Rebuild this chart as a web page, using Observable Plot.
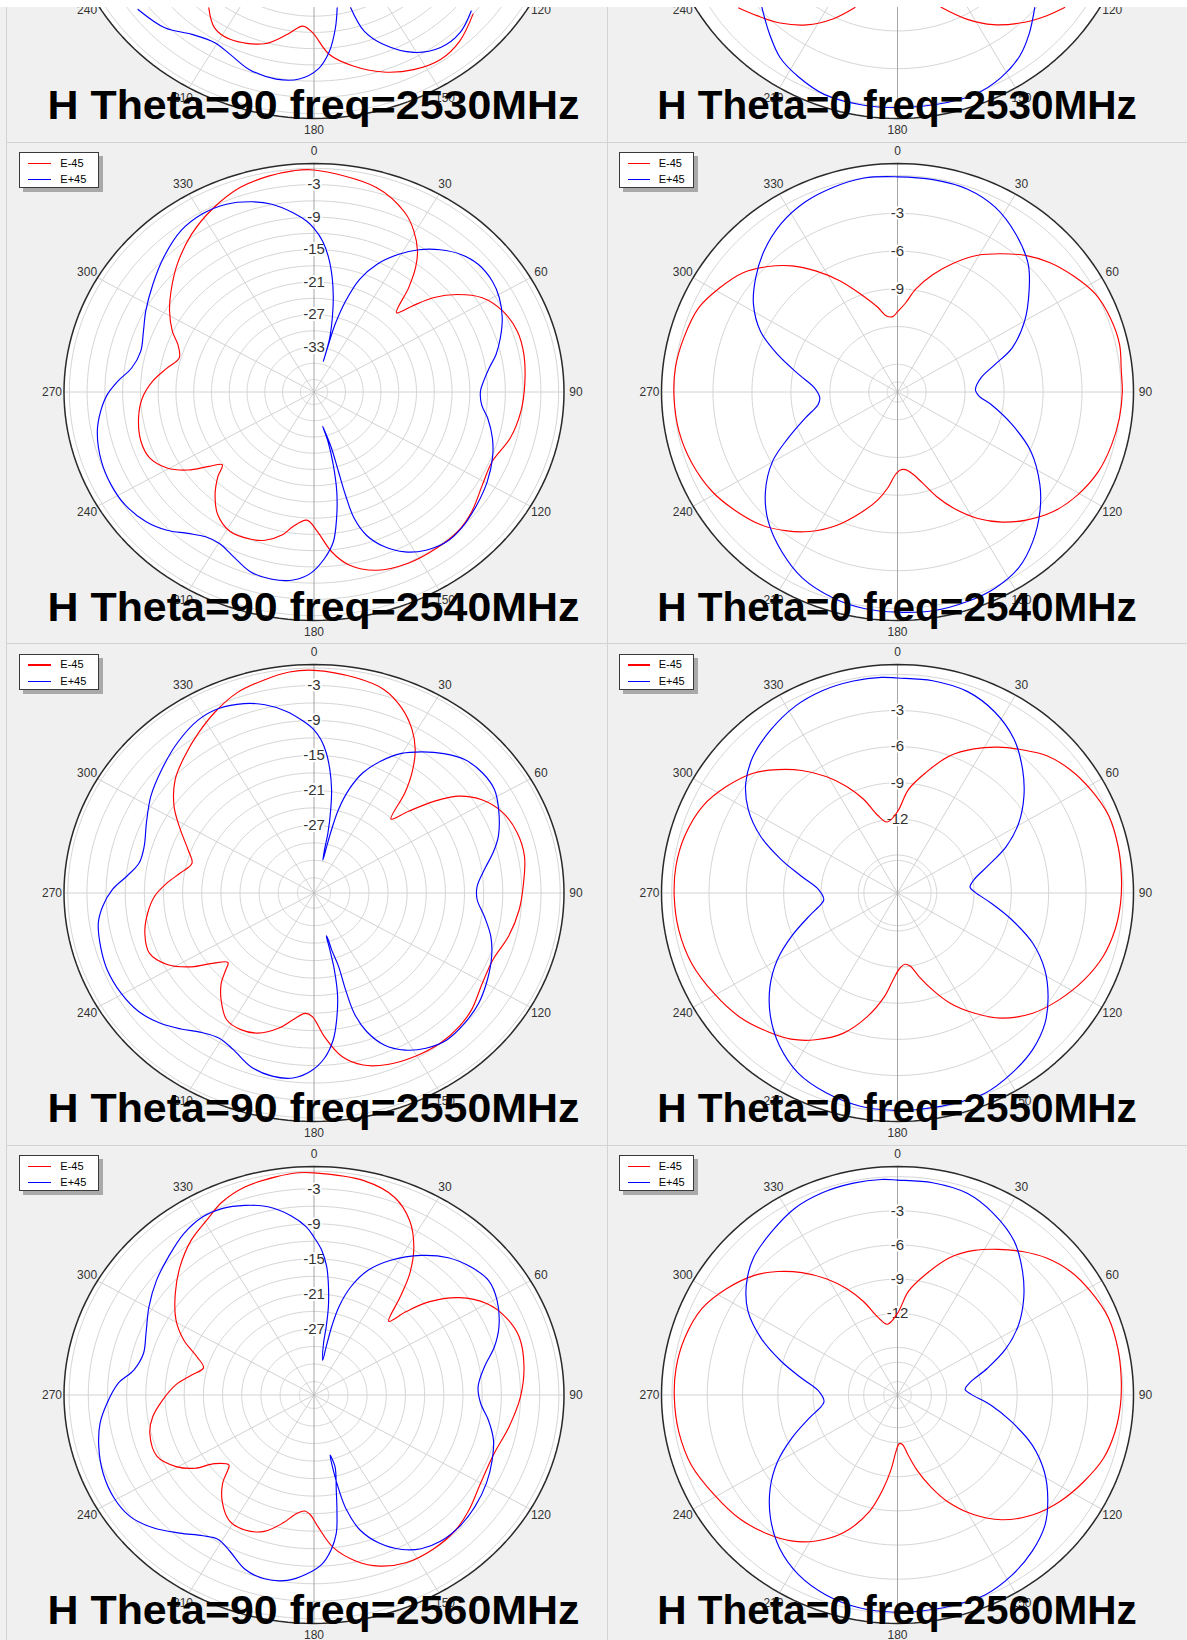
<!DOCTYPE html>
<html><head><meta charset="utf-8">
<script src="https://cdn.jsdelivr.net/npm/d3@7"></script>
<script src="https://cdn.jsdelivr.net/npm/@observablehq/plot@0.6"></script>
<style>
body{margin:0;background:#f0f0f0;font-family:"Liberation Sans",Arial,sans-serif;}
#page{position:relative;width:1187px;height:1640px;overflow:hidden;background:#f0f0f0;}
.panel{position:absolute;height:502px;}
.panel svg{position:absolute;left:0;top:0;}
.hline{position:absolute;left:6px;right:0;height:1px;background:#d2d2d2;}
.vline{position:absolute;top:0;height:1640px;width:1px;background:#d2d2d2;}
.legend{position:absolute;height:34px;background:#fff;border:1.3px solid #3a3a3a;box-shadow:4px 4px 0 #a9a9a9;font-size:11px;color:#000;}
.lrow{position:absolute;left:0;height:12px;line-height:12px;white-space:nowrap;}
.sw{position:absolute;height:1.3px;top:6px;}
.lt{position:absolute;top:0;}
#topstrip{position:absolute;left:0;top:0;width:1187px;height:7px;background:#fff;z-index:20;}
</style></head>
<body><div id="page"><div id="topstrip"></div></div>
<script>
// ---------- data: [angle (deg), level (dB)] ----------
const freqs = [2530, 2540, 2550, 2560];
const angleTicks = [0,30,60,90,120,150,180,210,240,270,300,330];
const seriesNames = ["E-45", "E+45"];
const seriesColors = ["#ff0000", "#0000ff"];

// radial scale of each chart (centre value, outer value)
const rminH90 = [-41.3, -41.3, -38.6, -38.3];
const rmaxH90 = [0.9, 0.9, 0.6, 0.8];
const rminH0 = [-17.2, -17.2, -18.15, -19.17];
const rmaxH0 = [0.96, 0.96, 0.82, 0.89];
const extraRingH0 = [-16.4, -16.4, -15.45, -16.3];
const labelsH90 = [[-3,-9,-15,-21,-27,-33], [-3,-9,-15,-21,-27,-33], [-3,-9,-15,-21,-27], [-3,-9,-15,-21,-27]];
const labelsH0 = [[-3,-6,-9], [-3,-6,-9], [-3,-6,-9,-12], [-3,-6,-9,-12]];

// 2530 MHz (only lower part visible)
const h90_2530_Em45 = [[130.5,-6.0],[138.6,-4.1],[145.7,-3.4],[153.1,-4.1],[160.8,-5.7],[168.7,-8.2],[175.1,-10.8],[180.6,-15.0],[184.3,-16.1],[189.5,-14.3],[196.4,-11.7],[207.2,-10.3],[213.4,-10.8],[219.2,-13.2]];
const h90_2530_Ep45a = [[130.1,-6.6],[137.0,-5.2],[143.7,-5.2],[150.7,-6.9],[157.7,-10.5],[162.0,-13.9],[164.1,-18.7]];
const h90_2530_Ep45b = [[169.8,-19.2],[171.9,-15.6],[175.0,-11.4],[178.8,-8.2],[184.1,-6.3],[190.4,-5.8],[198.3,-6.4],[205.0,-7.8],[210.7,-8.5],[217.7,-7.6],[224.7,-5.5],[233.4,-4.3]];
const h0_2530_Em45a = [[126.0,-1.3],[131.2,-2.0],[137.4,-2.9],[145.4,-4.2],[152.4,-5.6],[160.2,-7.3]];
const h0_2530_Em45b = [[199.3,-7.3],[205.9,-5.8],[213.1,-4.4],[220.5,-3.3],[227.1,-2.5],[232.5,-1.8]];
const h0_2530_Ep45 = [[131.5,-3.1],[138.6,-1.9],[144.5,-1.0],[151.9,-0.3],[159.9,0.1],[169.8,0.1],[179.3,0.1],[189.0,0.1],[199.0,0.0],[207.0,-0.5],[214.1,-1.1],[220.7,-2.1],[228.2,-3.2]];

// 2540 MHz
const h90_2540_Em45 = [[0,-0.3],[15.7,-2.1],[24.9,-4.8],[29.5,-7.1],[33.8,-9.9],[36.7,-12.6],[39.7,-16.3],[43.6,-21.1],[46.2,-18.4],[49.1,-14.7],[53.4,-11.1],[58.5,-8.0],[64.9,-6.1],[71.9,-5.2],[79.0,-5.2],[87.8,-5.7],[95.9,-6.2],[104.4,-7.1],[113.1,-8.6],[121.1,-8.1],[129.7,-6.7],[136.8,-5.9],[144.4,-5.8],[153.3,-5.9],[162.1,-6.7],[169.5,-8.8],[174.3,-11.7],[178.7,-15.5],[182.9,-17.6],[188.1,-16.2],[191.4,-14.4],[196.8,-12.7],[201.3,-12.1],[208.8,-11.9],[215.6,-13.4],[221.3,-16.0],[226.1,-18.8],[229.0,-20.8],[232.2,-18.9],[235.9,-15.6],[240.5,-12.8],[246.3,-11.0],[252.7,-10.7],[260.8,-11.3],[267.8,-12.3],[274.2,-14.0],[280.1,-16.1],[285.5,-17.7],[290.9,-16.7],[295.1,-14.9],[301.5,-12.7],[307.7,-10.8],[315.6,-8.3],[324.6,-5.6],[333.1,-3.4],[341.8,-1.5],[349.1,-0.7],[355.0,-0.3]];
const h90_2540_Ep45 = [[0,-11.1],[3.0,-13.4],[5.7,-16.4],[8.3,-20.0],[10.6,-23.6],[12.7,-27.2],[14.9,-31.0],[15.4,-33.5],[15.5,-35.4],[15.6,-32.2],[15.9,-28.3],[17.6,-23.7],[20.3,-19.1],[24.3,-15.4],[29.2,-12.2],[34.0,-9.6],[39.0,-7.5],[44.3,-5.8],[49.7,-4.9],[55.8,-4.9],[60.9,-5.5],[66.7,-6.7],[72.4,-8.3],[77.3,-9.8],[81.5,-11.4],[86.0,-12.6],[89.7,-13.2],[94.8,-12.9],[99.3,-11.6],[105.8,-10.0],[112.0,-8.8],[119.5,-7.7],[127.2,-6.8],[135.4,-5.9],[140.9,-5.7],[147.1,-6.5],[152.5,-8.0],[157.5,-10.4],[161.5,-13.4],[163.8,-17.0],[164.4,-21.6],[164.3,-26.0],[164.1,-30.5],[165.3,-33.2],[167.0,-34.8],[165.5,-31.9],[166.4,-27.5],[168.2,-22.5],[170.7,-17.7],[173.3,-13.4],[176.7,-10.5],[181.0,-7.8],[185.8,-6.4],[191.6,-6.0],[197.8,-6.4],[204.1,-8.0],[209.7,-9.1],[214.4,-8.9],[219.2,-7.6],[224.2,-5.7],[229.8,-4.2],[236.8,-3.2],[243.4,-3.0],[250.4,-3.2],[258.7,-4.0],[264.3,-5.1],[269.2,-6.4],[273.4,-8.1],[278.2,-10.2],[284.4,-11.1],[291.3,-10.4],[297.8,-9.2],[306.2,-7.6],[314.3,-5.8],[323.0,-4.0],[330.1,-3.4],[336.9,-3.6],[343.2,-4.6],[348.4,-5.9],[353.9,-8.0],[357.9,-9.8]];
const h0_2540_Em45 = [[0.2,-10.8],[5.0,-10.1],[9.7,-8.9],[16.2,-7.5],[22.8,-6.1],[29.6,-4.7],[36.1,-3.6],[42.5,-2.5],[48.8,-1.6],[55.9,-0.8],[62.9,-0.1],[70.2,0.2],[77.5,0.3],[84.5,0.1],[90,0.1],[96.9,0.0],[104.3,-0.2],[112.2,-0.5],[120.5,-1.1],[128.4,-1.9],[135.8,-3.0],[142.1,-4.1],[148.4,-5.4],[154.9,-7.0],[160.2,-8.4],[165.0,-9.7],[170.0,-10.6],[174.3,-11.0],[178.0,-11.0],[181.6,-10.6],[185.4,-9.6],[190.0,-8.5],[196.4,-7.2],[203.9,-5.6],[211.5,-4.2],[218.1,-3.2],[224.9,-2.3],[232.5,-1.6],[240.9,-0.9],[250.4,-0.4],[259.4,-0.1],[268.4,0.0],[276.4,0.0],[284.6,-0.2],[293.6,-0.5],[301.1,-1.2],[308.6,-2.0],[315.0,-3.1],[321.0,-4.3],[326.8,-5.7],[333.3,-7.3],[339.9,-8.9],[347.3,-10.3],[352.0,-11.1],[356.5,-11.2]];
const h0_2540_Ep45 = [[0,-0.1],[9.2,-0.1],[18.5,-0.2],[27.1,-0.7],[36.0,-1.7],[44.7,-2.9],[51.7,-4.3],[60.0,-5.9],[68.3,-7.7],[73.8,-9.4],[80.2,-10.7],[88.3,-11.2],[93.1,-10.9],[98.0,-9.9],[106.4,-8.0],[114.7,-5.9],[123.9,-4.0],[130.9,-2.7],[138.8,-1.4],[146.3,-0.4],[154.3,0.1],[162.1,0.3],[171.1,0.4],[179.9,0.3],[188.5,0.2],[196.8,-0.1],[206.3,-0.7],[215.1,-1.7],[224.1,-2.9],[232.0,-4.3],[240.1,-6.1],[246.4,-8.0],[253.7,-9.8],[260.6,-11.0],[265.5,-11.2],[272.9,-10.8],[280.3,-9.5],[287.9,-7.5],[294.6,-5.6],[302.2,-4.1],[309.8,-3.0],[317.5,-2.0],[326.2,-1.1],[335.0,-0.5],[343.0,-0.2],[351.4,0.0]];

// 2550 MHz
const h90_2550_Em45 = [[0,-0.4],[10.1,-1.1],[17.4,-2.0],[23.4,-4.0],[28.7,-6.6],[32.8,-9.3],[36.7,-12.9],[39.7,-16.3],[43.6,-21.1],[46.6,-18.2],[50.0,-14.2],[53.6,-10.6],[58.7,-7.8],[65.2,-5.9],[72.1,-5.1],[79.2,-5.0],[87.0,-5.7],[95.1,-6.3],[103.7,-7.2],[112.2,-8.3],[120.4,-8.0],[129.0,-6.8],[135.1,-6.3],[142.5,-6.1],[150.4,-6.4],[158.6,-7.0],[165.4,-8.1],[171.1,-10.2],[176.2,-13.9],[180.7,-17.4],[183.8,-17.9],[188.6,-16.6],[193.3,-14.8],[200.1,-13.0],[206.1,-12.5],[212.2,-12.9],[218.5,-15.2],[223.3,-17.4],[226.4,-19.5],[228.5,-20.6],[232.9,-18.6],[236.6,-15.6],[242.0,-12.5],[248.2,-10.8],[255.5,-11.2],[262.5,-12.3],[268.7,-13.6],[274.3,-15.5],[279.4,-17.4],[285.0,-18.8],[290.6,-17.5],[297.4,-15.0],[304.1,-12.1],[311.8,-9.4],[319.1,-7.6],[326.6,-5.7],[333.8,-3.8],[340.6,-2.2],[348.1,-1.2],[354.2,-0.5]];
const h90_2550_Ep45 = [[0,-10.6],[2.4,-12.3],[4.6,-14.5],[6.7,-17.3],[8.8,-20.6],[10.4,-24.1],[12.0,-28.1],[12.5,-31.0],[13.8,-32.8],[14.0,-30.4],[14.2,-27.4],[15.0,-23.8],[17.2,-20.0],[20.4,-16.6],[24.8,-13.7],[29.8,-11.0],[35.1,-9.0],[40.4,-7.2],[45.9,-5.7],[52.0,-5.1],[57.9,-5.2],[63.7,-6.3],[71.4,-8.1],[76.2,-9.7],[81.5,-11.6],[87.5,-13.0],[92.5,-13.0],[98.5,-11.6],[105.0,-9.9],[111.3,-8.7],[118.7,-7.6],[126.2,-6.6],[133.3,-6.1],[140.3,-5.9],[146.6,-6.7],[152.1,-8.1],[157.1,-10.3],[160.9,-13.5],[163.0,-17.0],[163.4,-21.3],[163.0,-25.4],[164.2,-28.5],[164.4,-30.3],[165.3,-31.0],[165.7,-28.6],[166.4,-25.0],[168.2,-20.5],[170.7,-16.6],[173.2,-13.2],[176.7,-10.2],[181.0,-8.0],[185.9,-6.7],[191.8,-6.5],[198.4,-7.2],[205.2,-8.9],[210.8,-9.6],[216.3,-8.9],[221.8,-7.3],[227.3,-5.7],[233.5,-4.4],[240.4,-3.8],[247.9,-3.6],[254.7,-3.9],[261.4,-4.4],[266.1,-5.4],[271.1,-7.0],[275.6,-9.1],[280.6,-10.7],[286.7,-10.8],[294.6,-9.7],[303.0,-8.1],[311.5,-6.7],[320.2,-5.1],[328.6,-3.8],[334.9,-3.6],[341.3,-4.3],[346.6,-5.4],[352.0,-7.1],[356.8,-9.1]];
const h0_2550_Em45 = [[0,-11.4],[5.9,-9.5],[12.8,-7.9],[20.3,-6.0],[27.2,-4.7],[33.7,-3.6],[40.1,-2.6],[46.5,-1.6],[53.6,-0.9],[61.1,-0.4],[69.4,0.0],[77.7,0.0],[85.6,-0.1],[92.7,-0.2],[99.9,-0.4],[107.6,-0.8],[115.6,-1.5],[124.1,-2.4],[132.6,-3.4],[141.1,-4.8],[148.6,-6.5],[155.3,-8.1],[160.6,-9.6],[166.0,-11.0],[170.5,-12.0],[174.2,-12.2],[178.3,-11.9],[182.9,-10.9],[186.9,-9.5],[193.3,-7.6],[200.6,-5.7],[208.4,-4.3],[215.2,-3.3],[222.3,-2.6],[231.1,-1.8],[240.6,-1.2],[250.6,-0.6],[260.2,-0.3],[269.1,-0.2],[277.1,-0.2],[285.4,-0.4],[294.6,-0.9],[302.7,-1.8],[310.8,-2.9],[316.8,-4.1],[322.9,-5.4],[329.3,-6.9],[335.2,-8.4],[340.7,-9.9],[346.1,-11.5],[352.0,-12.2]];
const h0_2550_Ep45 = [[0,-0.3],[9.1,-0.3],[18.5,-0.5],[27.4,-1.2],[36.2,-2.3],[44.5,-3.8],[51.7,-5.2],[59.2,-6.8],[66.2,-8.6],[73.0,-10.6],[79.8,-11.9],[85.2,-12.3],[89.5,-11.9],[96.3,-10.6],[103.6,-8.7],[111.0,-6.5],[118.3,-4.7],[125.4,-3.3],[132.4,-2.1],[140.2,-1.2],[148.4,-0.6],[157.2,-0.1],[166.5,-0.1],[175.4,-0.1],[180.7,-0.1],[189.6,-0.2],[199.1,-0.6],[208.1,-1.2],[216.7,-2.3],[225.0,-3.7],[232.9,-5.3],[240.1,-7.0],[247.1,-8.9],[254.9,-10.8],[261.1,-11.9],[264.7,-12.2],[272.6,-11.8],[280.2,-10.3],[286.5,-8.4],[293.1,-6.2],[300.0,-4.3],[306.9,-2.9],[314.5,-1.9],[323.1,-1.2],[332.0,-0.6],[340.2,-0.3],[348.6,-0.2],[355.8,-0.2]];

// 2560 MHz
const h90_2560_Em45 = [[0,-0.3],[12.0,-0.8],[20.4,-2.2],[26.6,-4.9],[31.6,-8.5],[35.8,-12.7],[38.8,-16.8],[42.8,-21.1],[45.3,-18.0],[48.4,-14.3],[53.8,-10.1],[59.9,-7.1],[66.0,-5.5],[72.8,-4.7],[81.6,-5.1],[90.5,-6.0],[100.0,-7.3],[109.5,-8.4],[120.0,-8.2],[128.9,-7.1],[136.1,-6.3],[144.9,-6.0],[153.4,-6.2],[160.8,-7.3],[166.9,-9.1],[173.4,-12.0],[178.5,-15.8],[181.6,-17.8],[184.3,-18.4],[188.4,-17.6],[192.4,-15.9],[198.4,-13.7],[205.1,-12.8],[211.4,-13.0],[217.7,-14.9],[223.4,-17.5],[226.4,-19.7],[228.0,-20.4],[233.0,-18.8],[236.0,-15.9],[240.4,-13.5],[246.8,-11.6],[255.7,-11.8],[261.6,-12.8],[267.9,-14.6],[274.6,-16.6],[280.0,-18.8],[285.1,-20.4],[289.6,-18.9],[294.7,-15.9],[300.7,-13.2],[308.7,-10.5],[316.2,-8.0],[324.0,-5.6],[330.7,-4.0],[336.4,-2.3],[343.1,-1.1],[350.9,-0.5],[356.4,-0.2]];
const h90_2560_Ep45 = [[0,-11.3],[2.8,-13.5],[5.2,-16.3],[7.0,-19.7],[8.5,-23.1],[9.3,-26.5],[9.6,-29.4],[12.9,-32.2],[13.0,-29.9],[13.3,-26.3],[14.5,-22.7],[17.2,-19.0],[21.5,-15.4],[27.5,-12.3],[35.1,-9.1],[41.8,-6.8],[48.3,-5.4],[54.3,-4.7],[60.5,-5.4],[68.0,-7.1],[73.7,-8.9],[79.7,-11.2],[86.9,-12.6],[93.1,-12.2],[98.9,-10.7],[105.3,-9.2],[111.7,-8.3],[119.2,-7.4],[127.2,-6.7],[134.6,-6.3],[141.7,-6.4],[147.5,-7.1],[152.5,-8.5],[158.1,-11.0],[162.7,-14.1],[165.5,-18.0],[166.5,-21.6],[166.8,-25.1],[166.3,-27.7],[165.0,-25.6],[167.9,-21.7],[169.9,-17.8],[171.6,-14.4],[174.2,-11.7],[177.6,-9.3],[182.3,-7.6],[187.5,-6.3],[193.9,-5.9],[199.9,-6.6],[206.2,-8.5],[211.2,-9.4],[215.8,-8.6],[221.6,-6.7],[227.9,-4.4],[234.2,-2.8],[240.5,-2.4],[247.9,-2.7],[255.3,-3.5],[261.8,-4.5],[267.5,-5.9],[273.7,-7.6],[278.6,-9.8],[284.9,-10.7],[291.8,-10.0],[300.3,-8.4],[308.6,-6.8],[316.0,-5.5],[323.6,-4.0],[330.3,-3.2],[335.7,-3.3],[341.6,-4.1],[347.4,-5.3],[353.3,-7.4],[357.6,-9.5]];
const h0_2560_Em45 = [[0,-12.0],[5.9,-10.0],[12.8,-8.3],[20.3,-6.3],[27.2,-4.9],[33.7,-3.8],[40.1,-2.7],[46.5,-1.7],[53.6,-0.9],[61.1,-0.4],[69.4,0.0],[77.7,0.0],[85.6,-0.1],[92.7,-0.2],[99.9,-0.4],[107.6,-0.8],[115.6,-1.6],[124.1,-2.5],[132.6,-3.6],[141.1,-5.1],[148.6,-6.9],[155.3,-8.8],[160.6,-10.6],[166.0,-12.4],[170.5,-13.9],[174.5,-14.8],[178.0,-14.9],[181.5,-14.2],[184.8,-12.6],[188.5,-10.8],[193.3,-8.6],[200.6,-6.3],[208.4,-4.6],[215.2,-3.5],[222.3,-2.7],[231.1,-1.9],[240.6,-1.3],[250.6,-0.6],[260.2,-0.3],[269.1,-0.2],[277.1,-0.2],[285.4,-0.4],[294.6,-0.9],[302.7,-1.9],[310.8,-3.1],[316.8,-4.3],[322.9,-5.7],[329.3,-7.3],[335.2,-8.9],[340.7,-10.5],[346.1,-12.1],[352.0,-12.9]];
const h0_2560_Ep45 = [[0,-0.3],[9.1,-0.3],[18.5,-0.5],[27.4,-1.3],[36.2,-2.4],[44.5,-4.0],[51.7,-5.5],[59.2,-7.2],[66.2,-9.1],[73.0,-11.2],[79.8,-12.9],[85.2,-13.4],[89.5,-12.9],[96.3,-11.2],[103.6,-9.2],[111.0,-6.9],[118.3,-5.0],[125.4,-3.5],[132.4,-2.2],[140.2,-1.3],[148.4,-0.6],[157.2,-0.1],[166.5,-0.1],[175.4,-0.1],[180.7,-0.1],[189.6,-0.2],[199.1,-0.6],[208.1,-1.3],[216.7,-2.4],[225.0,-3.9],[232.9,-5.6],[240.1,-7.4],[247.1,-9.4],[254.9,-11.4],[261.1,-12.6],[264.7,-12.9],[272.6,-12.5],[280.2,-10.9],[286.5,-8.9],[293.1,-6.6],[300.0,-4.5],[306.9,-3.1],[314.5,-2.0],[323.1,-1.3],[332.0,-0.6],[340.2,-0.3],[348.6,-0.2],[355.8,-0.2]];

// ---------- layout ----------
const PAGE = document.getElementById("page");
const ROW_TOP0 = 141.7, ROW_PITCH = 501.5, PH = 502;
const CY = 249.5, V = 228.5;
const LEFT = {x: 0, w: 607, cx: 313.5, h: 250, legend: {left: 19, width: 77.7, sw: [7.7, 31], tx: 40.3}, titleLen: 532};
const RIGHT = {x: 607, w: 580, cx: 290, h: 236, legend: {left: 12.3, width: 73, sw: [7.4, 30], tx: 38.4}, titleLen: null};
const FONT = '"Liberation Sans", Arial, sans-serif';
const rad = a => a * Math.PI / 180;

function ellipsePts(r, key) {
  return d3.range(0, 361, 2).map(a => ({x: r * Math.sin(rad(a)), y: r * Math.cos(rad(a)), key}));
}

function makePanel(side, top, cfg) {
  const span = cfg.rmax - cfg.rmin;
  const fr = d => Math.max(0, (d - cfg.rmin) / span);
  const toXY = (pts, key) => pts.map(([a, d]) => ({x: fr(d) * Math.sin(rad(a)), y: fr(d) * Math.cos(rad(a)), key}));
  const ringVals = d3.range(0, cfg.rmin, -3).concat(cfg.extraRings || []);
  const rings = ringVals.flatMap((d, i) => ellipsePts(fr(d), "r" + i));
  const spokes = angleTicks.filter(a => a % 180 !== 0);
  const curveMarks = cfg.series.map((s, i) => Plot.line(toXY(s.data, "s" + i), {
    x: "x", y: "y", stroke: s.color, strokeWidth: 1.15,
    curve: s.closed ? "catmull-rom-closed" : "catmull-rom"
  }));
  const svg = Plot.plot({
    width: side.w, height: PH, margin: 0,
    x: {domain: [-1, 1], range: [side.cx - side.h, side.cx + side.h], axis: null},
    y: {domain: [-1, 1], range: [CY + V, CY - V], axis: null},
    style: {background: "transparent", overflow: "visible", fontFamily: FONT},
    marks: [
      Plot.line(ellipsePts(1, "o"), {x: "x", y: "y", fill: "white", stroke: "none"}),
      Plot.line(rings, {x: "x", y: "y", z: "key", stroke: "#d6d6d6", strokeWidth: 1}),
      Plot.link(spokes, {x1: () => 0, y1: () => 0, x2: a => Math.sin(rad(a)), y2: a => Math.cos(rad(a)), stroke: "#d2d2d2", strokeWidth: 1}),
      Plot.link([0], {x1: () => 0, y1: () => -1, x2: () => 0, y2: () => 1, stroke: "#a6a6a6", strokeWidth: 1}),
      Plot.line(ellipsePts(1, "o"), {x: "x", y: "y", stroke: "#2a2a2a", strokeWidth: 1.5}),
      Plot.text(cfg.labels, {x: () => 0, y: d => fr(d), text: d => String(d), fontSize: 15, fill: "#333", stroke: "white", strokeWidth: 4}),
      ...curveMarks,
      Plot.text(angleTicks, {x: a => Math.sin(rad(a)) * (side.h + 12) / side.h, y: a => Math.cos(rad(a)) * (V + 12) / V, text: a => String(a), fontSize: 12, fill: "#333"})
    ]
  });
  const t = d3.select(svg).append("text")
    .attr("x", side.cx).attr("y", CY + V + 0.5)
    .attr("text-anchor", "middle")
    .attr("font-family", FONT).attr("font-weight", "bold").attr("font-size", 40.5)
    .attr("fill", "#000")
    .text(cfg.title);
  if (side.titleLen) t.attr("textLength", side.titleLen).attr("lengthAdjust", "spacingAndGlyphs");

  const div = document.createElement("div");
  div.className = "panel";
  div.style.left = side.x + "px"; div.style.top = top + "px"; div.style.width = side.w + "px";
  div.appendChild(svg);
  const lg = document.createElement("div");
  lg.className = "legend";
  lg.style.left = side.legend.left + "px"; lg.style.top = "10.6px"; lg.style.width = side.legend.width + "px";
  seriesNames.forEach((n, i) => {
    const row = document.createElement("div");
    row.className = "lrow";
    row.style.top = (3.5 + i * 16.3) + "px";
    row.style.width = "100%";
    const sw = document.createElement("span");
    sw.className = "sw";
    sw.style.left = side.legend.sw[0] + "px"; sw.style.width = (side.legend.sw[1] - side.legend.sw[0]) + "px";
    sw.style.background = seriesColors[i];
    const tx = document.createElement("span");
    tx.className = "lt"; tx.style.left = side.legend.tx + "px"; tx.textContent = n;
    row.appendChild(sw); row.appendChild(tx); lg.appendChild(row);
  });
  div.appendChild(lg);
  PAGE.appendChild(div);
}

[-1, 0, 1, 2, 3].forEach(i => {
  const l = document.createElement("div"); l.className = "hline"; l.style.top = (ROW_TOP0 + i * ROW_PITCH) + "px"; PAGE.appendChild(l);
});
[6, 607].forEach(x => { const l = document.createElement("div"); l.className = "vline"; l.style.left = x + "px"; PAGE.appendChild(l); });

const seriesH90 = [
  [{data: h90_2530_Em45, color: seriesColors[0], closed: false}, {data: h90_2530_Ep45a, color: seriesColors[1], closed: false}, {data: h90_2530_Ep45b, color: seriesColors[1], closed: false}],
  [{data: h90_2540_Em45, color: seriesColors[0], closed: true}, {data: h90_2540_Ep45, color: seriesColors[1], closed: true}],
  [{data: h90_2550_Em45, color: seriesColors[0], closed: true}, {data: h90_2550_Ep45, color: seriesColors[1], closed: true}],
  [{data: h90_2560_Em45, color: seriesColors[0], closed: true}, {data: h90_2560_Ep45, color: seriesColors[1], closed: true}]
];
const seriesH0 = [
  [{data: h0_2530_Em45a, color: seriesColors[0], closed: false}, {data: h0_2530_Em45b, color: seriesColors[0], closed: false}, {data: h0_2530_Ep45, color: seriesColors[1], closed: false}],
  [{data: h0_2540_Em45, color: seriesColors[0], closed: true}, {data: h0_2540_Ep45, color: seriesColors[1], closed: true}],
  [{data: h0_2550_Em45, color: seriesColors[0], closed: true}, {data: h0_2550_Ep45, color: seriesColors[1], closed: true}],
  [{data: h0_2560_Em45, color: seriesColors[0], closed: true}, {data: h0_2560_Ep45, color: seriesColors[1], closed: true}]
];

freqs.forEach((f, i) => {
  const top = ROW_TOP0 + (i - 1) * ROW_PITCH;
  makePanel(LEFT, top, {rmin: rminH90[i], rmax: rmaxH90[i], labels: labelsH90[i], series: seriesH90[i], title: `H Theta=90 freq=${f}MHz`});
  makePanel(RIGHT, top, {rmin: rminH0[i], rmax: rmaxH0[i], extraRings: [extraRingH0[i]], labels: labelsH0[i], series: seriesH0[i], title: `H Theta=0 freq=${f}MHz`});
});
</script>
</body></html>
